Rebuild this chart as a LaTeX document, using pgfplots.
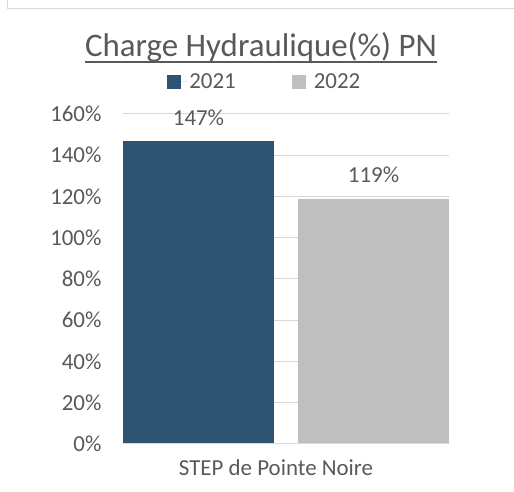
\documentclass[border=0pt]{standalone}
\usepackage{pgfplots}
\pgfplotsset{compat=1.18}
\usepackage{fontspec}
\setmainfont{Carlito}
\definecolor{bar21}{HTML}{2F5373}
\definecolor{bar22}{HTML}{BFBFBF}
\definecolor{txt}{HTML}{595959}
\definecolor{gridc}{HTML}{D9D9D9}
\begin{document}
\begin{tikzpicture}[x=1bp,y=1bp]
\useasboundingbox (0,0) rectangle (514,492);
\draw[gridc, line width=1bp] (7,492) -- (7,483) -- (514,483);
\node[txt, font=\fontsize{33}{38}\selectfont, anchor=base, inner sep=0pt] (t) at (261,435) {Charge Hydraulique(\%) PN};
\draw[txt, line width=1.2bp] ([yshift=-5bp]t.base west) -- ([yshift=-5bp]t.base east);
\begin{axis}[
    at={(123bp,48bp)}, anchor=south west,
    scale only axis,
    width=326bp, height=330bp,
    ybar=24bp, bar width=151bp,
    xmin=-1, xmax=1,
    ymin=0, ymax=160,
    xtick={0}, xticklabels={STEP de Pointe Noire},
    ytick={0,20,...,160},
    yticklabel={\pgfmathprintnumber{\tick}\%},
    /pgf/number format/assume math mode=true,
    major tick length=0pt,
    axis line style={draw=none},
    ymajorgrids, grid style={gridc, line width=1bp},
    tick label style={txt, font=\fontsize{23}{27}\selectfont},
    yticklabel style={anchor=east, xshift=-18bp},
    xticklabel style={anchor=base, yshift=-32bp, xshift=-10bp},
    nodes near coords={\pgfmathprintnumber{\pgfplotspointmeta}\%},
    nodes near coords style={txt, font=\fontsize{23}{27}\selectfont, anchor=south, yshift=12bp},
    legend columns=2,
    legend style={draw=none, fill=none, at={(0.435,1.097)}, anchor=center,
        font=\fontsize{23}{27}\selectfont, text=txt,
        /tikz/every even column/.append style={column sep=54bp}},
    legend image code/.code={\path (0bp,0bp) -- (20bp,0bp);\fill[#1] (0bp,-7bp) rectangle (14bp,7bp);},
]
\addplot[fill=bar21, draw=none] coordinates {(0,147)};
\addplot[fill=bar22, draw=none] coordinates {(0,119)};
\draw[gridc, line width=1bp] (rel axis cs:0,0) -- (rel axis cs:1,0);
\legend{2021,2022}
\end{axis}
\end{tikzpicture}
\end{document}
